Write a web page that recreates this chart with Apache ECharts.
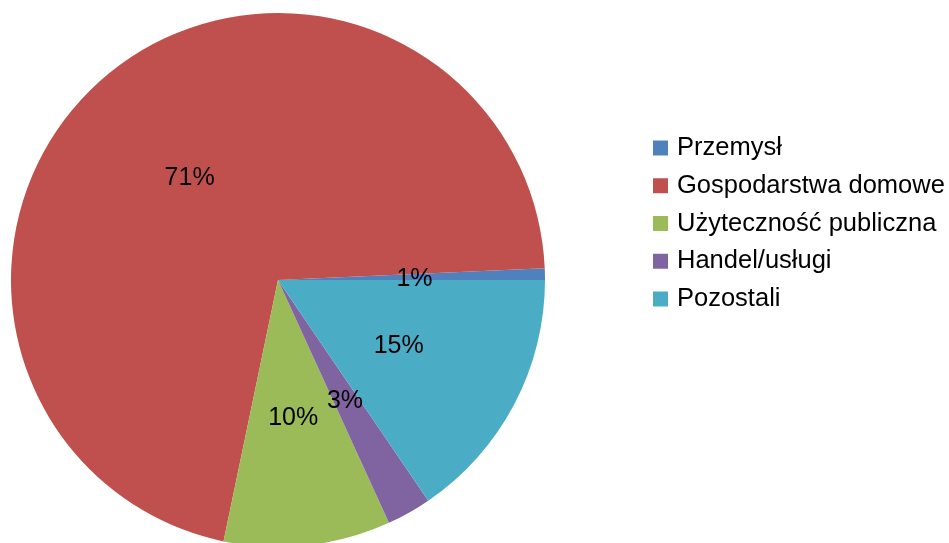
<!DOCTYPE html>
<html>
<head>
<meta charset="utf-8">
<script src="https://cdn.jsdelivr.net/npm/echarts@6/dist/echarts.min.js"></script>
<style>
html,body{margin:0;padding:0;background:#fff;}
#chart{width:949px;height:543px;}
</style>
</head>
<body>
<div id="chart"></div>
<script>
const categories = ['Przemysł', 'Gospodarstwa domowe', 'Użyteczność publiczna', 'Handel/usługi', 'Pozostali'];
const values = [0.7, 71.1, 10.1, 2.7, 15.5];
const colors = ['#4f81bd', '#c0504d', '#9bbb59', '#8064a2', '#4bacc6'];

const chart = echarts.init(document.getElementById('chart'), null, {renderer: 'canvas'});
chart.setOption({
  animation: false,
  color: colors,
  textStyle: {fontFamily: 'Liberation Sans'},
  legend: {
    orient: 'vertical',
    left: 648,
    top: 130,
    icon: 'rect',
    itemWidth: 15,
    itemHeight: 15,
    itemGap: 11.75,
    textStyle: {fontSize: 25.5, lineHeight: 24, color: '#000', fontFamily: 'Liberation Sans', padding: [0, 0, 0, 4]},
    data: categories
  },
  series: [{
    type: 'pie',
    center: [278, 280],
    radius: 267,
    startAngle: 0,
    clockwise: false,
    avoidLabelOverlap: false,
    label: {
      show: true,
      position: 'inside',
      color: '#000',
      fontSize: 25,
      fontFamily: 'Liberation Sans',
      formatter: p => Math.round(p.percent) + '%'
    },
    labelLayout: {dy: 2},
    labelLine: {show: false},
    itemStyle: {borderWidth: 0},
    emphasis: {disabled: true},
    data: categories.map((c, i) => ({name: c, value: values[i]}))
  }]
});
</script>
</body>
</html>
